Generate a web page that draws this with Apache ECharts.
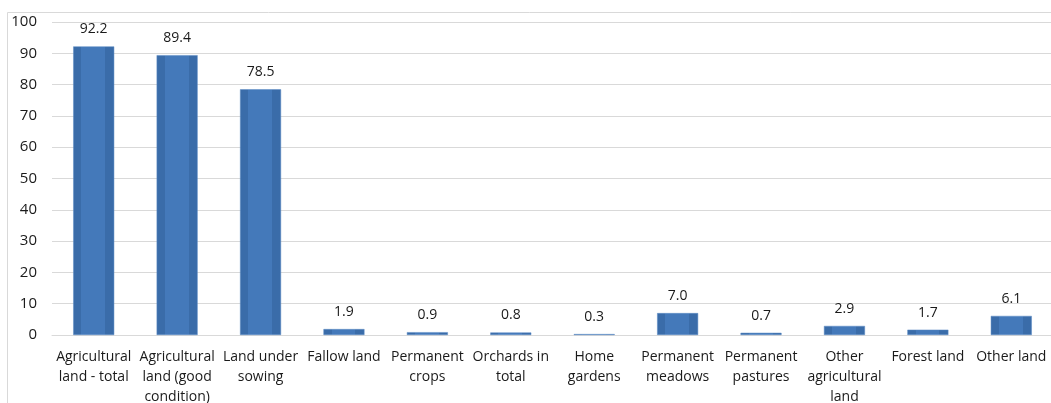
<!DOCTYPE html>
<html>
<head>
<meta charset="utf-8">
<script src="https://cdn.jsdelivr.net/npm/echarts@6/dist/echarts.min.js"></script>
<style>
html,body{margin:0;padding:0;background:#fff;}
#c{width:1051px;height:403px;}
</style>
</head>
<body>
<div id="c"></div>
<script>
var categories = [
  "Agricultural\nland - total",
  "Agricultural\nland (good\ncondition)",
  "Land under\nsowing",
  "Fallow land",
  "Permanent\ncrops",
  "Orchards in\ntotal",
  "Home\ngardens",
  "Permanent\nmeadows",
  "Permanent\npastures",
  "Other\nagricultural\nland",
  "Forest land",
  "Other land"
];
var values = [92.2, 89.4, 78.5, 1.9, 0.9, 0.8, 0.3, 7.0, 0.7, 2.9, 1.7, 6.1];
var yTicks = { min: 0, max: 100, interval: 10 };

var chart = echarts.init(document.getElementById('c'), null, {renderer: 'canvas'});
var font = "'Open Sans', 'Noto Sans', sans-serif";
chart.setOption({
  animation: false,
  backgroundColor: '#fff',
  graphic: [{
    type: 'rect',
    shape: {x: 7.5, y: 12.5, width: 1060, height: 420},
    style: {fill: 'none', stroke: '#d9d9d9', lineWidth: 1},
    silent: true,
    z: -1
  }],
  grid: {left: 52, right: -2, top: 22, bottom: 68, containLabel: false, outerBoundsMode: 'none'},
  xAxis: {
    type: 'category',
    data: categories,
    axisLine: {show: true, lineStyle: {color: '#d9d9d9', width: 1}},
    axisTick: {show: false},
    axisLabel: {
      interval: 0,
      color: '#1a1a1a',
      fontFamily: font,
      fontSize: 14,
      lineHeight: 20,
      margin: 12
    }
  },
  yAxis: {
    type: 'value',
    min: yTicks.min,
    max: yTicks.max,
    interval: yTicks.interval,
    axisLine: {show: false},
    axisTick: {show: false},
    splitLine: {lineStyle: {color: '#d9d9d9', width: 1}},
    axisLabel: {color: '#1a1a1a', fontFamily: font, fontSize: 15, margin: 15}
  },
  series: [{
    type: 'bar',
    data: values,
    barWidth: 41,
    itemStyle: {
      color: {
        type: 'linear', x: 0, y: 0, x2: 1, y2: 0,
        colorStops: [
          {offset: 0, color: '#3a6ca9'},
          {offset: 0.2, color: '#3a6ca9'},
          {offset: 0.2, color: '#4479ba'},
          {offset: 0.78, color: '#4479ba'},
          {offset: 0.78, color: '#3a6ca9'},
          {offset: 1, color: '#3a6ca9'}
        ]
      },
      borderColor: '#5a8ac4',
      borderWidth: 0.5
    },
    label: {
      show: true,
      position: 'top',
      distance: 10,
      color: '#1a1a1a',
      fontFamily: font,
      fontSize: 14,
      formatter: function(p){ return p.value.toFixed(1); }
    }
  }]
});
</script>
</body>
</html>
